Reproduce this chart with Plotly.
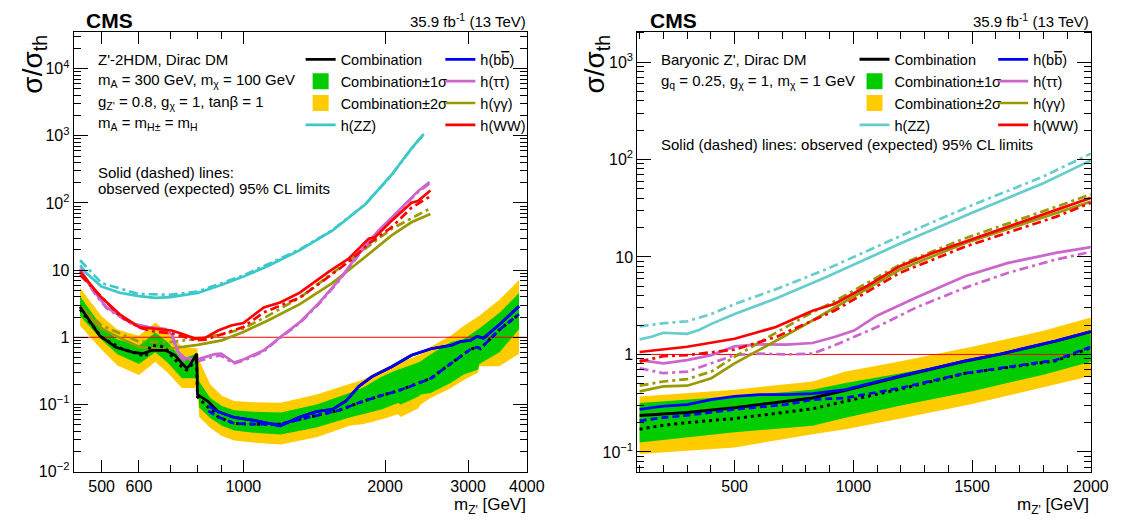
import math
import plotly.graph_objects as go

FONT = "Liberation Sans, Arial, Helvetica, sans-serif"
W, H = 1125, 522

# ======================= LEFT PANEL: Z'-2HDM =======================
# bands (expected combination +-1 sigma / +-2 sigma)
L_band_m = [450, 500, 540, 600, 650, 690, 740, 798, 806, 850, 900, 956, 1050, 1200, 1430, 1680,
            1800, 1970, 2130, 2160, 2350, 2380, 2500, 2760, 2940, 3150, 3170, 3500, 3850]
L_y2lo = [1.48, 0.65, 0.38, 0.275, 0.43, 0.30, 0.175, 0.175, 0.065, 0.045, 0.034, 0.029, 0.027, 0.0254,
          0.0325, 0.048, 0.051, 0.06, 0.0714, 0.065, 0.087, 0.1, 0.125, 0.175, 0.232, 0.30, 0.37, 0.37, 0.57]
L_y1lo = [2.08, 0.92, 0.56, 0.40, 0.60, 0.42, 0.245, 0.245, 0.09, 0.063, 0.048, 0.041, 0.038, 0.0356,
          0.0455, 0.064, 0.072, 0.085, 0.105, 0.10, 0.13, 0.14, 0.148, 0.21, 0.28, 0.33, 0.40, 0.60, 1.32]
L_y1hi = [4.08, 1.45, 0.93, 0.75, 1.18, 0.85, 0.48, 0.57, 0.22, 0.125, 0.095, 0.082, 0.078, 0.0755,
          0.10, 0.148, 0.18, 0.26, 0.33, 0.34, 0.42, 0.44, 0.56, 0.85, 0.945, 1.32, 1.35, 2.32, 4.56]
L_y2hi = [5.4, 2.05, 1.3, 1.05, 1.66, 1.2, 0.72, 0.68, 0.45, 0.2, 0.135, 0.112, 0.108, 0.106,
          0.14, 0.2, 0.235, 0.33, 0.407, 0.42, 0.54, 0.56, 0.72, 1.06, 1.48, 2.07, 2.1, 3.64, 7.1]

# h(bb) observed / expected
L_bb_obs_m = [842, 884, 956, 1053, 1197, 1318, 1428, 1547, 1650, 1759, 1876, 2065, 2275, 2503, 2757,
              2893, 3035, 3135, 3236, 3343, 3508, 3850]
L_bb_obs = [0.095, 0.078, 0.064, 0.058, 0.048, 0.065, 0.078, 0.0845, 0.112, 0.186, 0.26, 0.364, 0.539,
            0.675, 0.755, 0.864, 0.894, 1.03, 0.97, 1.18, 1.57, 2.9]
L_bb_exp_m = [842, 884, 956, 1053, 1197, 1318, 1451, 1598, 1759, 1937, 2133, 2311, 2503, 2670, 2847,
              3035, 3135, 3186, 3343, 3508, 3850]
L_bb_exp = [0.08, 0.065, 0.052, 0.0508, 0.0508, 0.0603, 0.0698, 0.0817, 0.106, 0.132, 0.16, 0.196,
            0.245, 0.344, 0.482, 0.66, 0.714, 0.675, 0.945, 1.32, 2.2]

# combination (low-mass part, continues along h(bb) above ~880 GeV)
L_comb_obs_m = [450, 495, 536, 581, 610, 640, 683, 716, 740, 758, 770, 790, 796, 799, 815, 842]
L_comb_obs = [2.84, 1.06, 0.71, 0.60, 0.57, 0.64, 0.64, 0.54, 0.41, 0.344, 0.385, 0.54, 0.57, 0.14,
              0.128, 0.11]
L_comb_exp_m = [450, 500, 550, 600, 620, 636, 680, 705, 740, 758, 775, 795, 799, 828, 869]
L_comb_exp = [2.6, 1.0, 0.68, 0.56, 0.52, 0.76, 0.72, 0.52, 0.364, 0.326, 0.38, 0.5, 0.13, 0.1, 0.075]

# h(ZZ)
L_zz_obs_m = [450, 465, 500, 546, 600, 650, 700, 800, 900, 1000, 1122, 1318, 1547, 1816, 2065, 2274, 2416]
L_zz_obs = [11.8, 8.9, 5.7, 4.6, 4.1, 3.87, 3.95, 4.57, 6.05, 8.0, 11.3, 19.8, 38.9, 95.6, 263, 646, 1070]
L_zz_exp_m = [450, 500, 600, 700, 800, 1000, 1318, 1547, 1816, 2065, 2274, 2416]
L_zz_exp = [14, 6.4, 4.4, 4.3, 4.8, 8.3, 20.3, 39.5, 96, 262, 640, 1060]

# h(WW)
L_ww_obs_m = [450, 496, 546, 601, 651, 704, 740, 790, 829, 884, 942, 1000, 1105, 1197, 1318, 1522,
              1677, 1846, 1906, 2065, 2275, 2349, 2496]
L_ww_obs = [9.5, 4.1, 2.2, 1.41, 1.34, 1.26, 1.13, 0.96, 0.98, 1.26, 1.5, 1.63, 2.78, 3.29, 4.61, 9.6,
            15.0, 29.4, 31.1, 54.5, 101, 107, 153]
L_ww_exp_m = [450, 500, 546, 600, 651, 704, 750, 790, 830, 884, 942, 1000, 1105, 1318, 1522, 1700,
              1846, 2065, 2275, 2496]
L_ww_exp = [8.5, 3.9, 2.09, 1.4, 1.2, 1.15, 1.0, 0.9, 0.92, 1.07, 1.25, 1.42, 2.35, 3.89, 8.1, 14.5,
            24.8, 43.5, 85, 126]

# h(gamma gamma)
L_gg_obs_m = [450, 500, 546, 600, 651, 700, 800, 900, 1000, 1122, 1318, 1547, 1816, 2065, 2274, 2496]
L_gg_obs = [2.77, 1.34, 0.98, 0.72, 0.67, 0.68, 0.77, 0.9, 1.2, 1.75, 3.11, 6.45, 15.8, 32.9, 51.5, 68.3]
L_gg_exp_m = [450, 500, 600, 700, 800, 900, 1000, 1122, 1318, 1547, 1816, 2065, 2496]
L_gg_exp = [2.9, 1.5, 0.86, 0.85, 0.95, 1.1, 1.35, 2.05, 3.89, 9.0, 21, 41.2, 83.5]

# h(tau tau)
L_tt_m = [450, 480, 512, 581, 630, 683, 705, 728, 751, 801, 869, 897, 926, 956, 1003, 1105, 1197,
          1318, 1451, 1598, 1759, 1937, 2133, 2349, 2485]
L_tt_obs = [10.5, 5.0, 2.8, 1.6, 1.42, 1.33, 1.1, 0.6, 0.49, 0.47, 0.56, 0.57, 0.49, 0.42, 0.47, 0.64,
            1.0, 1.68, 3.3, 7.2, 17.7, 39, 76, 150, 205]
L_tt_exp = [10.0, 4.8, 2.7, 1.55, 1.38, 1.28, 1.05, 0.55, 0.44, 0.44, 0.52, 0.53, 0.46, 0.41, 0.45,
            0.62, 0.98, 1.62, 3.2, 7.0, 17, 38, 74, 145, 195]

# ======================= RIGHT PANEL: Baryonic Z' =======================
R_band_m = [100, 500, 828, 967, 1200, 1500, 1800, 2000]
R_y2hi = [0.37, 0.435, 0.528, 0.667, 0.85, 1.2, 1.75, 2.39]
R_y1hi = [0.318, 0.372, 0.435, 0.508, 0.64, 0.88, 1.3, 1.63]
R_y1lo = [0.125, 0.159, 0.185, 0.224, 0.30, 0.42, 0.62, 0.84]
R_y2lo = [0.095, 0.111, 0.152, 0.171, 0.22, 0.31, 0.46, 0.60]

R_zz_obs_m = [100, 150, 200, 250, 300, 350, 402, 500, 674, 884, 1200, 1500, 1800, 2000]
R_zz_obs = [1.43, 1.52, 1.67, 1.66, 1.63, 1.78, 2.06, 2.6, 3.75, 6.2, 13.8, 28.5, 57, 98]
R_zz_exp_m = [100, 200, 300, 402, 500, 674, 884, 1200, 1500, 1800, 2000]
R_zz_exp = [1.94, 2.09, 2.19, 2.6, 3.29, 4.67, 7.44, 16.5, 34, 67, 115]

R_ww_obs_m = [100, 300, 500, 674, 828, 920, 1058, 1196, 1334, 1472, 1610, 1852, 2000]
R_ww_obs = [1.06, 1.2, 1.45, 1.91, 2.81, 3.29, 5.04, 8.04, 11.0, 14.4, 18.9, 30.2, 40.4]
R_ww_exp_m = [100, 200, 300, 500, 674, 828, 920, 1196, 1472, 1852, 2000]
R_ww_exp = [0.843, 0.96, 0.985, 1.12, 1.51, 2.23, 2.81, 6.88, 12.8, 25.8, 36]

R_gg_m = [100, 200, 300, 402, 500, 605, 716, 828, 920, 1196, 1472, 1852, 2000]
R_gg_obs = [0.418, 0.47, 0.478, 0.571, 0.811, 1.11, 1.57, 2.23, 3.0, 7.44, 13.9, 28.4, 37]
R_gg_exp = [0.478, 0.528, 0.558, 0.667, 0.947, 1.34, 1.91, 2.71, 3.5, 8.36, 15.6, 32.6, 44]

R_tt_obs_m = [100, 200, 300, 402, 500, 605, 716, 828, 920, 1003, 1099, 1265, 1472, 1652, 1852, 2000]
R_tt_obs = [0.876, 0.811, 0.876, 0.985, 1.21, 1.27, 1.26, 1.31, 1.51, 1.76, 2.5, 3.84, 6.37, 8.7, 11, 12.6]
R_tt_exp_m = [100, 200, 300, 402, 500, 605, 716, 828, 920, 1099, 1265, 1472, 1652, 1852, 2000]
R_tt_exp = [0.721, 0.642, 0.667, 0.811, 0.985, 1.02, 1.0, 1.02, 1.24, 1.91, 3.04, 4.85, 6.88, 9.4, 11.3]

R_bb_obs_m = [100, 200, 300, 402, 500, 605, 716, 828, 967, 1196, 1472, 1610, 1852, 2000]
R_bb_obs = [0.273, 0.295, 0.306, 0.344, 0.372, 0.387, 0.387, 0.396, 0.435, 0.6, 0.86, 1.0, 1.38, 1.72]
R_bb_exp_m = [100, 200, 300, 500, 716, 828, 967, 1196, 1472, 1852, 2000]
R_bb_exp = [0.208, 0.225, 0.237, 0.273, 0.306, 0.344, 0.358, 0.452, 0.642, 0.876, 1.2]

R_comb_obs_m = [100, 200, 300, 500, 716, 828, 967, 1196, 1472, 1610, 1852, 2000]
R_comb_obs = [0.237, 0.247, 0.253, 0.284, 0.331, 0.358, 0.43, 0.595, 0.855, 0.995, 1.37, 1.71]
R_comb_exp_m = [100, 200, 300, 500, 716, 828, 967, 1196, 1472, 1852, 2000]
R_comb_exp = [0.171, 0.188, 0.2, 0.22, 0.256, 0.277, 0.331, 0.44, 0.64, 0.86, 1.17]

# axis ranges / ticks
L_XMIN, L_XMAX = 436, 4000
R_XMIN, R_XMAX = 90, 2000
L_xticks = [500, 600, 1000, 2000, 3000, 4000]
L_xminor = [700, 800, 900]

# ---------------- colours ----------------
C_YEL = "#FFCC00"
C_GRN = "#00CC00"
C_ZZ_L = "#3CC8C8"
C_ZZ_R = "#66CCCC"
C_TT = "#CC66CC"
C_GG = "#999900"
C_WW = "#FF0000"
C_BB = "#0000FF"

DASHDOT = "9px,4px,3px,4px"
DASH = "7px,4px"
DOT = "3px,4px"
LW = 2.7

fig = go.Figure()


def line(m, v, color, xa, ya, dash=None, width=LW, name=None, legend=None, rank=None):
    fig.add_trace(go.Scatter(
        x=m, y=v, mode="lines", xaxis=xa, yaxis=ya,
        line=dict(color=color, width=width, dash=dash),
        name=name, showlegend=name is not None, legend=legend, legendrank=rank,
        hoverinfo="skip"))


def band(m, lo, hi, color, xa, ya):
    fig.add_trace(go.Scatter(x=m, y=lo, mode="lines", line=dict(width=0, color=color),
                             xaxis=xa, yaxis=ya, showlegend=False, hoverinfo="skip"))
    fig.add_trace(go.Scatter(x=m, y=hi, mode="lines", line=dict(width=0, color=color),
                             fill="tonexty", fillcolor=color,
                             xaxis=xa, yaxis=ya, showlegend=False, hoverinfo="skip"))


def box_entry(name, color, xa, ya, legend, rank):
    fig.add_trace(go.Scatter(x=[None], y=[None], mode="markers", xaxis=xa, yaxis=ya,
                             marker=dict(symbol="square", size=16, color=color),
                             name=name, showlegend=True, legend=legend, legendrank=rank))


BB_NAME = "h(b<span style='text-decoration:overline'>b</span>)"

# ---------- left panel traces ----------
band(L_band_m, L_y2lo, L_y2hi, C_YEL, "x", "y")
band(L_band_m, L_y1lo, L_y1hi, C_GRN, "x", "y")
fig.add_trace(go.Scatter(x=[L_XMIN, L_XMAX], y=[1, 1], mode="lines", line=dict(color="red", width=1),
                         xaxis="x", yaxis="y", showlegend=False, hoverinfo="skip"))
line(L_zz_exp_m, L_zz_exp, C_ZZ_L, "x", "y", DASHDOT)
line(L_zz_obs_m, L_zz_obs, C_ZZ_L, "x", "y", None, name="h(ZZ)", legend="legend", rank=4)
line(L_gg_exp_m, L_gg_exp, C_GG, "x", "y", DASHDOT)
line(L_gg_obs_m, L_gg_obs, C_GG, "x", "y", None, name="h(γγ)", legend="legend2", rank=3)
line(L_tt_m, L_tt_exp, C_TT, "x", "y", DASHDOT)
line(L_tt_m, L_tt_obs, C_TT, "x", "y", None, name="h(ττ)", legend="legend2", rank=2)
line(L_ww_exp_m, L_ww_exp, C_WW, "x", "y", DASHDOT)
line(L_ww_obs_m, L_ww_obs, C_WW, "x", "y", None, name="h(WW)", legend="legend2", rank=4)
line(L_comb_exp_m + L_bb_exp_m[1:], L_comb_exp + L_bb_exp[1:], "black", "x", "y", DOT, width=3)
line(L_comb_obs_m + L_bb_obs_m[1:], L_comb_obs + L_bb_obs[1:], "black", "x", "y", None,
     name="Combination", legend="legend", rank=1)
line(L_bb_exp_m, L_bb_exp, C_BB, "x", "y", DASH)
line(L_bb_obs_m, L_bb_obs, C_BB, "x", "y", None, name=BB_NAME, legend="legend2", rank=1)
box_entry("Combination±1σ", C_GRN, "x", "y", "legend", 2)
box_entry("Combination±2σ", C_YEL, "x", "y", "legend", 3)

# ---------- right panel traces ----------
band(R_band_m, R_y2lo, R_y2hi, C_YEL, "x2", "y2")
band(R_band_m, R_y1lo, R_y1hi, C_GRN, "x2", "y2")
fig.add_trace(go.Scatter(x=[R_XMIN, R_XMAX], y=[1, 1], mode="lines", line=dict(color="red", width=1),
                         xaxis="x2", yaxis="y2", showlegend=False, hoverinfo="skip"))
line(R_zz_exp_m, R_zz_exp, C_ZZ_R, "x2", "y2", DASHDOT)
line(R_zz_obs_m, R_zz_obs, C_ZZ_R, "x2", "y2", None, name="h(ZZ)", legend="legend3", rank=4)
line(R_tt_exp_m, R_tt_exp, C_TT, "x2", "y2", DASHDOT)
line(R_tt_obs_m, R_tt_obs, C_TT, "x2", "y2", None, name="h(ττ)", legend="legend4", rank=2)
line(R_gg_m, R_gg_exp, C_GG, "x2", "y2", DASHDOT)
line(R_gg_m, R_gg_obs, C_GG, "x2", "y2", None, name="h(γγ)", legend="legend4", rank=3)
line(R_ww_exp_m, R_ww_exp, C_WW, "x2", "y2", DASHDOT)
line(R_ww_obs_m, R_ww_obs, C_WW, "x2", "y2", None, name="h(WW)", legend="legend4", rank=4)
line(R_comb_exp_m, R_comb_exp, "black", "x2", "y2", DOT, width=3)
line(R_comb_obs_m, R_comb_obs, "black", "x2", "y2", None, width=3,
     name="Combination", legend="legend3", rank=1)
line(R_bb_exp_m, R_bb_exp, C_BB, "x2", "y2", DASH)
line(R_bb_obs_m, R_bb_obs, C_BB, "x2", "y2", None, name=BB_NAME, legend="legend4", rank=1)
box_entry("Combination±1σ", C_GRN, "x2", "y2", "legend3", 2)
box_entry("Combination±2σ", C_YEL, "x2", "y2", "legend3", 3)


# ---------------- axes ----------------
def minor_decades(lo, hi):
    out = []
    for d in range(lo, hi + 1):
        for k in range(2, 10):
            out.append(k * 10.0 ** d)
    return out


tickfont = dict(family=FONT, size=16, color="black")
common = dict(showline=True, linecolor="black", linewidth=1, mirror="ticks", ticks="inside",
              tickcolor="black", tickwidth=1, showgrid=False, zeroline=False, tickfont=tickfont)

yl_top = 1 - 24 / H
yl_bot = 1 - 471.7 / H

layout_axes = dict(
    xaxis=dict(domain=[66.7 / W, 527.3 / W], anchor="y", type="log",
               range=[math.log10(L_XMIN), math.log10(L_XMAX)],
               tickmode="array", tickvals=L_xticks, ticktext=[str(t) for t in L_xticks], ticklen=12,
               minor=dict(tickmode="array", tickvals=L_xminor, ticklen=7, ticks="inside",
                          tickcolor="black"), **common),
    yaxis=dict(domain=[yl_bot, yl_top], anchor="x", type="log", range=[-2, 4.552],
               tickmode="array", tickvals=[0.01, 0.1, 1, 10, 100, 1000, 10000],
               ticktext=["10<sup>−2</sup>", "10<sup>−1</sup>", "1", "10", "10<sup>2</sup>",
                         "10<sup>3</sup>", "10<sup>4</sup>"], ticklen=14,
               minor=dict(tickmode="array", tickvals=minor_decades(-2, 4), ticklen=7,
                          ticks="inside", tickcolor="black"), **common),
    xaxis2=dict(domain=[639.5 / W, 1100.5 / W], anchor="y2", type="linear",
                range=[R_XMIN, R_XMAX], tickmode="array", tickvals=[500, 1000, 1500, 2000],
                ticklen=12,
                minor=dict(tickmode="array", tickvals=list(range(100, 2001, 100)), ticklen=7,
                           ticks="inside", tickcolor="black"), **common),
    yaxis2=dict(domain=[yl_bot, yl_top], anchor="x2", type="log", range=[-1.2017, 3.3126],
                tickmode="array", tickvals=[0.1, 1, 10, 100, 1000],
                ticktext=["10<sup>−1</sup>", "1", "10", "10<sup>2</sup>", "10<sup>3</sup>"],
                ticklen=14,
                minor=dict(tickmode="array", tickvals=minor_decades(-2, 3), ticklen=7,
                           ticks="inside", tickcolor="black"), **common),
)


def leg(xpx):
    return dict(x=xpx / W, y=1 - 36 / H, xanchor="left", yanchor="top", orientation="v",
                bgcolor="rgba(0,0,0,0)", borderwidth=0, itemwidth=30, tracegroupgap=0,
                traceorder="normal", font=dict(family=FONT, size=14.5, color="black"))


def ann(text, xpx, ypx, size=15, xanchor="left", yanchor="middle", **kw):
    return dict(text=text, x=xpx / W, y=1 - ypx / H, xref="paper", yref="paper",
                xanchor=xanchor, yanchor=yanchor, showarrow=False,
                font=dict(family=FONT, size=size, color="black"), **kw)


annotations = [
    # left panel
    ann("<b>CMS</b>", 77, 12.5, size=21),
    ann("35.9 fb<sup>-1</sup> (13 TeV)", 528, 13, size=15, xanchor="right"),
    ann("σ/σ<sub>th</sub>", 26, 25, size=28, xanchor="center", yanchor="top", textangle=-90),
    ann("m<sub>Z'</sub> [GeV]", 528, 507, size=17, xanchor="right"),
    ann("Z'-2HDM, Dirac DM", 89.7, 52, size=15),
    ann("m<sub>A</sub> = 300 GeV, m<sub>χ</sub> = 100 GeV", 89.7, 74, size=15),
    ann("g<sub>Z'</sub> = 0.8, g<sub>χ</sub> = 1, tanβ = 1", 89.7, 96, size=15),
    ann("m<sub>A</sub> = m<sub>H±</sub> = m<sub>H</sub>", 89.7, 118, size=15),
    ann("Solid (dashed) lines:", 89.7, 167, size=15),
    ann("observed (expected) 95% CL limits", 89.7, 184, size=15),
    # right panel
    ann("<b>CMS</b>", 650, 12.5, size=21),
    ann("35.9 fb<sup>-1</sup> (13 TeV)", 1101, 13, size=15, xanchor="right"),
    ann("σ/σ<sub>th</sub>", 598, 25, size=28, xanchor="center", yanchor="top", textangle=-90),
    ann("m<sub>Z'</sub> [GeV]", 1101, 507, size=17, xanchor="right"),
    ann("Baryonic Z', Dirac DM", 661.6, 52, size=15),
    ann("g<sub>q</sub> = 0.25, g<sub>χ</sub> = 1, m<sub>χ</sub> = 1 GeV", 661.6, 75, size=15),
    ann("Solid (dashed) lines: observed (expected) 95% CL limits", 661.6, 139, size=15),
]

fig.update_layout(
    width=W, height=H, margin=dict(l=0, r=0, t=0, b=0),
    paper_bgcolor="white", plot_bgcolor="white",
    font=dict(family=FONT, color="black"),
    legend=leg(297.4), legend2=leg(439.4), legend3=leg(860.3), legend4=leg(1001.2),
    annotations=annotations,
    **layout_axes,
)

fig.write_html("out.html")
